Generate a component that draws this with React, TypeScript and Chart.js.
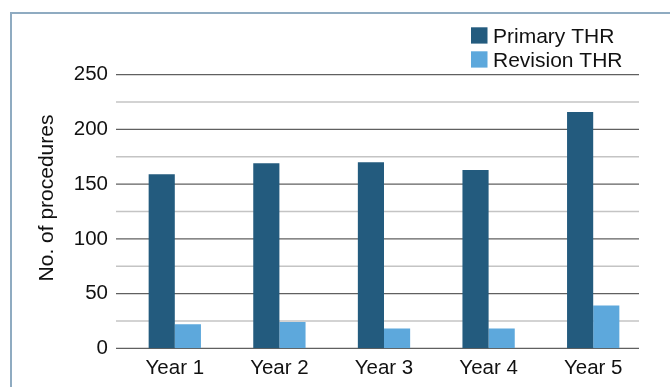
import React, { useEffect, useRef } from "react";
import { Chart, registerables } from "chart.js";

Chart.register(...registerables);

const categories = ["Year 1", "Year 2", "Year 3", "Year 4", "Year 5"];
const seriesNames = ["Primary THR", "Revision THR"];
const yAxisTitle = "No. of procedures";
const primaryTHR = [159, 169, 170, 163, 216];
const revisionTHR = [22, 24, 18, 18, 39];
const yMin = 0;
const yMax = 250;
const majorStep = 50;
const minorStep = 25;

const COLORS = ["#235B7E", "#5DA8DC"];
const FONT = "'Liberation Sans', Arial, sans-serif";
const GRID_SHIFT = 6.5;

const frameAndGrid = {
  id: "frameAndGrid",
  beforeDraw(chart: any) {
    const { ctx } = chart;
    ctx.save();
    ctx.strokeStyle = "#8FABC1";
    ctx.lineWidth = 2;
    ctx.strokeRect(11, 13, 700, 420);
    ctx.restore();
  },
  beforeDatasetsDraw(chart: any) {
    const { ctx, chartArea, scales } = chart;
    const y = scales.y;
    const left = chartArea.left - GRID_SHIFT;
    const right = chartArea.right - GRID_SHIFT;
    ctx.save();
    for (let v = yMin; v <= yMax; v += minorStep) {
      const major = v % majorStep === 0;
      const py = y.getPixelForValue(v);
      ctx.beginPath();
      ctx.strokeStyle = major ? "#606060" : "#C4C4C4";
      ctx.lineWidth = major ? 1.3 : 1.6;
      ctx.moveTo(left, py);
      ctx.lineTo(right, py);
      ctx.stroke();
    }
    ctx.restore();
  },
  afterDraw(chart: any) {
    const { ctx } = chart;
    ctx.save();
    ctx.font = `21px ${FONT}`;
    ctx.textBaseline = "alphabetic";
    ctx.textAlign = "left";
    chart.data.datasets.forEach((ds: any, i: number) => {
      const top = 27.3 + i * 24;
      ctx.fillStyle = ds.backgroundColor;
      ctx.fillRect(471, top, 16.5, 16.3);
      ctx.fillStyle = "#111111";
      ctx.fillText(ds.label, 493, top + 16);
    });
    // y-axis title
    ctx.translate(52.5, 198);
    ctx.rotate(-Math.PI / 2);
    ctx.textAlign = "center";
    ctx.textBaseline = "alphabetic";
    ctx.font = `21px ${FONT}`;
    ctx.fillStyle = "#111111";
    ctx.fillText(yAxisTitle, 0, 0);
    ctx.restore();
  },
};

export default function App() {
  const ref = useRef<HTMLCanvasElement | null>(null);

  useEffect(() => {
    document.body.style.margin = "0";
    if (!ref.current) return;
    const chart = new Chart(ref.current, {
      type: "bar",
      data: {
        labels: categories,
        datasets: [
          { label: seriesNames[0], data: primaryTHR, backgroundColor: COLORS[0] },
          { label: seriesNames[1], data: revisionTHR, backgroundColor: COLORS[1] },
        ],
      },
      options: {
        responsive: false,
        animation: false,
        layout: { padding: { top: 74.7, right: 24.5, left: 0, bottom: 0 } },
        datasets: {
          bar: { categoryPercentage: 0.5, barPercentage: 1.0 },
        },
        plugins: {
          legend: { display: false },
          tooltip: { enabled: false },
        },
        scales: {
          x: {
            grid: { display: false, drawTicks: false },
            border: { display: false },
            ticks: {
              color: "#111111",
              font: { family: FONT, size: 20.5 },
              padding: 8.2,
              maxRotation: 0,
            },
            afterFit(scale: any) {
              scale.height = 38.7;
            },
          },
          y: {
            min: yMin,
            max: yMax,
            grid: { display: false, drawTicks: false },
            border: { display: false },
            ticks: {
              stepSize: majorStep,
              color: "#111111",
              font: { family: FONT, size: 20.5 },
              padding: 14.5,
            },
            afterFit(scale: any) {
              scale.width = 122.5;
            },
          },
        },
      },
      plugins: [frameAndGrid],
    });
    return () => chart.destroy();
  }, []);

  return (
    <div style={{ width: 670, height: 387 }}>
      <canvas ref={ref} width={670} height={387} style={{ display: "block" }} />
    </div>
  );
}
